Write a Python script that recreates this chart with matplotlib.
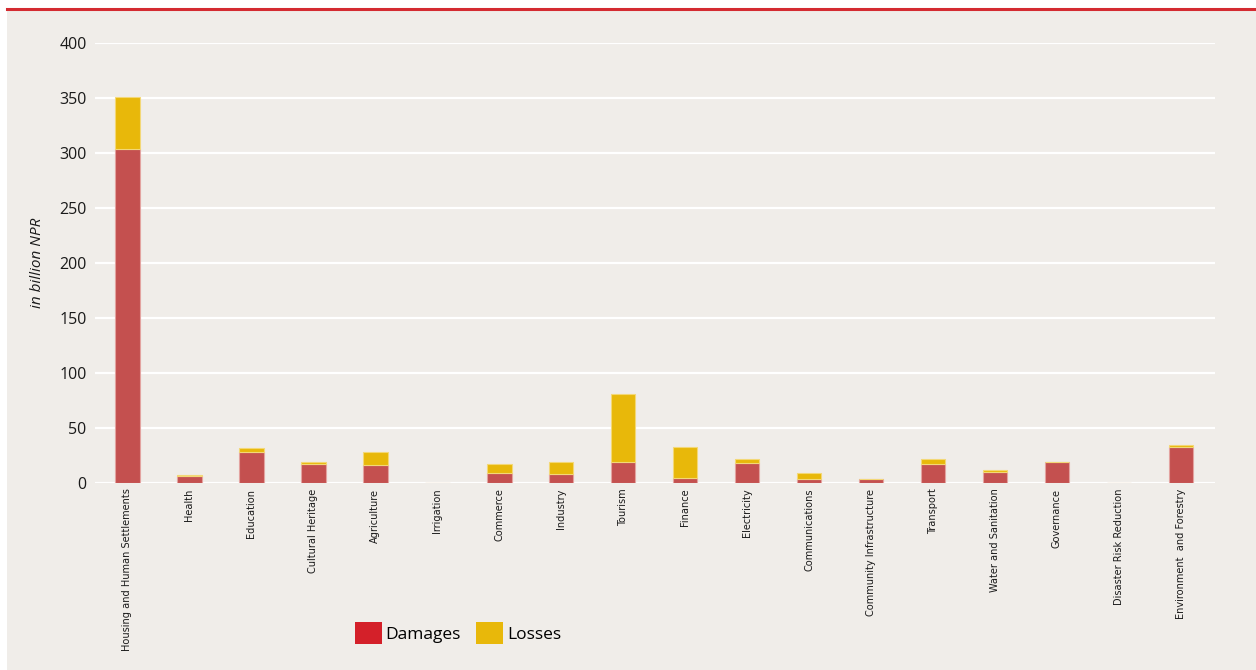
"""Damages and losses by sector, stacked bars."""
import matplotlib
matplotlib.use("Agg")
import matplotlib.pyplot as plt
from matplotlib.patches import Patch, Rectangle
from matplotlib.lines import Line2D

sectors = [
    "Housing and Human Settlements", "Health", "Education", "Cultural Heritage",
    "Agriculture", "Irrigation", "Commerce", "Industry", "Tourism", "Finance",
    "Electricity", "Communications", "Community Infrastructure", "Transport",
    "Water and Sanitation", "Governance", "Disaster Risk Reduction",
    "Environment  and Forestry",
]
damages = [303.6, 6.4, 28.1, 16.9, 16.4, 0.4, 9.3, 8.1, 18.9, 4.7,
           17.8, 3.6, 3.3, 17.2, 10.4, 18.8, 0.2, 33.0]
losses = [47.3, 1.3, 3.3, 2.4, 12.0, 0.0, 8.4, 11.3, 62.4, 28.4,
          3.6, 5.5, 0.0, 4.9, 1.2, 0.0, 0.0, 1.6]
yticks = [0, 50, 100, 150, 200, 250, 300, 350, 400]

BG = "#F0EDE9"
RED_BAR, YEL = "#C4504F", "#E8B80A"
RED_KEY = "#D42029"
INK = "#1A1A1A"

W, H = 1256, 670
fig = plt.figure(figsize=(W / 100, H / 100), dpi=100)
fig.patch.set_facecolor("white")
fig.add_artist(Rectangle((7 / W, 0), 1 - 7 / W, 1 - 10 / H, transform=fig.transFigure,
                         fc=BG, ec="none", zorder=0))
fig.add_artist(Line2D([7 / W, 1], [1 - 9 / H, 1 - 9 / H], transform=fig.transFigure,
                      color="#D42B31", lw=2.2, zorder=1))

ax = fig.add_axes([95 / W, (H - 483) / H, (1215 - 95) / W, (483 - 43) / H])
ax.set_facecolor("none")
x = range(len(sectors))
ax.bar(x, damages, width=0.4, color=RED_BAR, edgecolor="#E3A3A0", lw=0.8, zorder=3)
ax.bar(x, losses, bottom=damages, width=0.4, color=YEL, edgecolor="#F3D877", lw=0.8, zorder=3)

ax.set_xlim(-0.52, 17.55)
ax.set_ylim(0, 400)
ax.set_yticks(yticks)
ax.yaxis.grid(True, color="white", lw=1.6, zorder=1)
ax.set_axisbelow(True)
for sp in ax.spines.values():
    sp.set_visible(False)
ax.tick_params(length=0)
ax.tick_params(axis="y", labelsize=11.5, pad=6, labelcolor=INK)
for t in ax.get_yticklabels():
    t.set_family(["Open Sans", "DejaVu Sans"])
ax.set_xticks(list(x))
ax.set_xticklabels(sectors, rotation=90, va="top", ha="center", fontsize=7.8,
                   family="DejaVu Sans", stretch="condensed", color=INK)
ax.tick_params(axis="x", pad=4)
ax.set_ylabel("in billion NPR", fontsize=11, style="italic", color=INK,
              family=["Open Sans", "DejaVu Sans"], labelpad=10)

handles = [Patch(fc=RED_KEY, ec="none", label="Damages"),
           Patch(fc=YEL, ec="none", label="Losses")]
fig.legend(handles=handles, loc="center", bbox_to_anchor=(458 / W, 1 - 633 / H), ncol=2,
           frameon=False, handlelength=1.55, handleheight=1.55, handletextpad=0.2,
           columnspacing=0.9, prop={"family": ["Open Sans", "DejaVu Sans"], "size": 12.5})

fig.savefig("out.png", dpi=100, facecolor="white")
